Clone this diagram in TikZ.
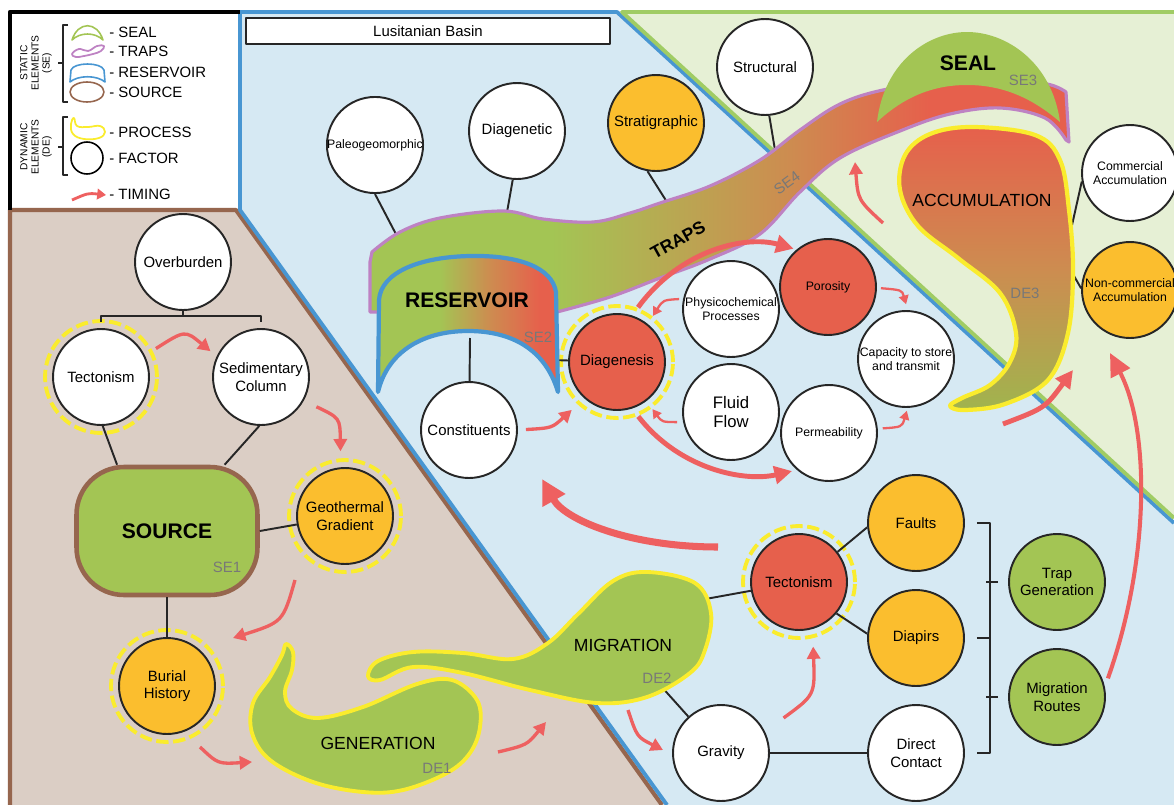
\documentclass[tikz,border=0pt]{standalone}
\usepackage{fontspec}
\setmainfont{Liberation Sans}
\usetikzlibrary{arrows.meta}

\definecolor{grn}{RGB}{163,197,84}
\definecolor{facorange}{RGB}{251,190,46}
\definecolor{facred}{RGB}{230,96,76}
\definecolor{bgblue}{RGB}{214,233,243}
\definecolor{bggreen}{RGB}{230,240,213}
\definecolor{bgbrown}{RGB}{219,206,197}
\definecolor{lnbrown}{RGB}{150,102,78}
\definecolor{lnblue}{RGB}{72,150,210}
\definecolor{lngreen}{RGB}{160,204,100}
\definecolor{lnpink}{RGB}{190,130,195}
\definecolor{ylw}{RGB}{250,236,45}
\definecolor{arrowred}{RGB}{238,96,96}
\definecolor{tagray}{RGB}{120,120,120}
\definecolor{accmid}{RGB}{205,140,80}
\definecolor{accgreen}{RGB}{160,180,78}

\pgfdeclarehorizontalshading{trapshade}{100bp}{color(0bp)=(grn); color(38bp)=(grn); color(55bp)=(accmid); color(65bp)=(facred); color(100bp)=(facred)}
\pgfdeclarehorizontalshading{resshade}{100bp}{color(0bp)=(grn); color(42bp)=(grn); color(56bp)=(accmid); color(70bp)=(facred); color(100bp)=(facred)}

\begin{document}
\begin{tikzpicture}[x=0.02cm, y=-0.02cm, line join=round]
    \tikzstyle{factor} = [circle, draw=black!85, line width=1.1pt, fill=white, minimum size=1.92cm, inner sep=0pt, align=center, font=\fontsize{8.5}{10}\selectfont]
    \tikzstyle{smalltext} = [font=\fontsize{7}{8}\selectfont]
    \tikzstyle{link} = [draw=black!85, line width=1.1pt]
    \tikzstyle{ring} = [draw=ylw, line width=2.2pt, dash pattern=on 7pt off 2.6pt]
    \tikzstyle{process} = [fill=grn, draw=ylw, line width=2.2pt]
    \tikzstyle{timing} = [draw=arrowred, line width=1.9pt, -{Triangle[length=7pt,width=7.5pt]}]
    \tikzstyle{thintiming} = [draw=arrowred, line width=1.3pt, -{Triangle[length=5pt,width=5.5pt]}]
    \tikzstyle{bigtiming} = [draw=arrowred, line width=2.8pt, -{Triangle[length=10pt,width=10pt]}]
    \tikzstyle{hugetiming} = [draw=arrowred, line width=4pt, -{Triangle[length=14pt,width=14pt]}]
    \tikzstyle{bigword} = [font=\fontsize{12}{14}\selectfont\bfseries]
    \tikzstyle{stage} = [font=\fontsize{10}{12}\selectfont]
    \tikzstyle{elemtag} = [text=tagray, font=\fontsize{8.5}{10}\selectfont]
    \tikzstyle{legtext} = [anchor=west, inner sep=0pt, font=\fontsize{8.5}{10}\selectfont]
    \useasboundingbox (0,0) rectangle (1174,805);

    % panels
    \fill[white] (0,0) rectangle (1174,805);
    \fill[bgbrown] (10,210) -- (238,210) -- (664,805) -- (10,805) -- cycle;
    \fill[bgblue] (240,12) -- (617,12) -- (1174,523) -- (1174,805) -- (667,805) -- (240,210) -- cycle;
    \fill[bggreen] (621,12) -- (1174,12) -- (1174,518) -- cycle;
    \draw[lnbrown, line width=2.4pt] (10,805) -- (10,210) -- (236,210) -- (662,805);
    \draw[lnblue, line width=2.2pt] (667,805) -- (240,210) -- (240,12) -- (617,12) -- (1174,523);
    \draw[lngreen, line width=2.2pt] (1174,12) -- (622,12) -- (1174,518);
    \draw[black, line width=2.6pt] (10,210) -- (10,12) -- (240,12);

    % legend
    \node[rotate=90, align=center, font=\fontsize{5.8}{6.3}\selectfont] (sehead) at (36,63) {STATIC\\ELEMENTS\\(SE)};
    \node[rotate=90, align=center, font=\fontsize{5.8}{6.3}\selectfont] (dehead) at (36,147) {DYNAMIC\\ELEMENTS\\(DE)};
    \draw[black!85, line width=0.7pt] (68,25) -- (63,25) -- (63,102) -- (68,102) (63,63) -- (58,63);
    \draw[black!85, line width=0.7pt] (68,117) -- (63,117) -- (63,175) -- (68,175) (63,147) -- (58,147);
    \draw[grn, line width=0.9pt] (72,40) .. controls (78,21) and (97,21) .. (103,40) .. controls (95,32) and (80,32) .. cycle;
    \draw[lnpink, line width=1pt] plot[smooth cycle, tension=0.7] coordinates {(72,54) (79,49) (88,51) (97,46) (104,46) (101,51) (93,54) (84,56) (76,57)};
    \draw[lnblue, line width=0.9pt] (70,82) -- (71,70) .. controls (74,62) and (101,62) .. (104,70) -- (105,82) .. controls (97,75) and (78,75) .. cycle;
    \draw[lnbrown, line width=0.9pt] (87,92) ellipse [x radius=0.34cm, y radius=0.2cm];
    \draw[ylw, line width=1pt] plot[smooth cycle, tension=0.7] coordinates {(74,118) (77,126) (88,127) (100,126) (105,132) (99,138) (84,139) (73,134) (71,124)};
    \draw[black, line width=0.9pt] (87,158) circle[radius=0.32cm];
    \draw[draw=arrowred, line width=1.6pt, -{Triangle[length=5pt,width=6pt]}] (72,200) .. controls (88,193) .. (106,195);
    \node[legtext] (lgseal) at (109,32) {- SEAL};
    \node[legtext] (lgtraps) at (109,51) {- TRAPS};
    \node[legtext] (lgres) at (109,72) {- RESERVOIR};
    \node[legtext] (lgsrc) at (109,92) {- SOURCE};
    \node[legtext] (lgproc) at (109,132) {- PROCESS};
    \node[legtext] (lgfac) at (109,158) {- FACTOR};
    \node[legtext] (lgtime) at (109,194) {- TIMING};

    % source side
    \node[factor] (ovb) at (183,262) {Overburden};
    \node[factor] (tecS) at (101,377) {Tectonism};
    \node[factor] (sed) at (261,377) {Sedimentary\\Column};
    \node[rectangle, rounded corners=0.95cm, draw=lnbrown, line width=2.6pt, fill=grn, minimum width=3.62cm, minimum height=2.56cm, bigword] (source) at (167,531) {SOURCE};
    \node[factor, fill=facorange] (geo) at (345,516) {Geothermal\\Gradient};
    \node[factor, fill=facorange] (bur) at (167,686) {Burial\\History};

    % reservoir side
    \node[draw=black!85, line width=1.1pt, fill=white, minimum width=7.28cm, minimum height=0.52cm, font=\fontsize{8.5}{10}\selectfont] (basin) at (428,31) {Lusitanian Basin};
    \node[factor, smalltext] (paleo) at (375,145) {Paleogeomorphic};
    \node[factor] (diagen) at (517,131) {Diagenetic};
    \node[factor, fill=facorange] (strat) at (656,123) {Stratigraphic};
    \node[factor] (struct) at (765,67) {Structural};
    \node[factor] (const) at (469,430) {Constituents};
    \node[factor, fill=facred] (diag) at (617,362) {Diagenesis};
    \node[factor, smalltext] (phys) at (731,309) {Physicochemical\\Processes};
    \node[factor, fill=facred, smalltext] (por) at (828,287) {Porosity};
    \node[factor, font=\fontsize{9.5}{11}\selectfont] (fluid) at (731,412) {Fluid\\Flow};
    \node[factor, smalltext] (perm) at (829,433) {Permeability};
    \node[factor, smalltext] (cap) at (906,359) {Capacity to store\\and transmit};

    % accumulation side
    \node[factor, smalltext] (comm) at (1130,173) {Commercial\\Accumulation};
    \node[factor, fill=facorange, smalltext] (noncomm) at (1130,290) {Non-commercial\\Accumulation};

    % migration side
    \node[factor, fill=facred] (tecM) at (799,582) {Tectonism};
    \node[factor, fill=facorange] (faults) at (916,523) {Faults};
    \node[factor, fill=facorange] (diapirs) at (916,638) {Diapirs};
    \node[factor] (grav) at (721,753) {Gravity};
    \node[factor] (direct) at (916,753) {Direct\\Contact};
    \node[factor, fill=grn] (trapg) at (1057,582) {Trap\\Generation};
    \node[factor, fill=grn] (migr) at (1057,697) {Migration\\Routes};

    \foreach \n in {tecS, geo, bur, diag, tecM}
        \draw[ring] (\n) circle[radius=1.12cm];

    % links
    \coordinate (brk) at (183,316);
    \coordinate (tp1) at (398,238);
    \coordinate (tp2) at (506,218);
    \coordinate (tp3) at (672,210);
    \coordinate (tp4) at (776,156);
    \coordinate (rsR) at (552,360);
    \coordinate (rsB) at (470,338);
    \coordinate (mgR) at (700,600);
    \coordinate (mgB) at (660,685);
    \coordinate (acR1) at (1066,252);
    \coordinate (acR2) at (1066,262);
    \draw[link] (ovb) -- (brk);
    \draw[link] (tecS.north |- brk) ++(0,6) -- ++(0,-6) -- (sed.north |- brk) -- ++(0,6);
    \draw[link] (tecS.-88) -- (source.127);
    \draw[link] (sed.-92) -- (source.49);
    \path[link] (source.east) edge (geo) (source) edge (bur);
    \draw[link] (paleo.south) -- (tp1);
    \draw[link] (diagen.-95) -- (tp2);
    \draw[link] (strat.-100) -- (tp3);
    \draw[link] (struct.-85) -- (tp4);
    \draw[link] (diag) -- (rsR);
    \draw[link] (const) -- (rsB);
    \draw[link] (mgR) -- (tecM);
    \draw[link] (mgB) -- (grav);
    \draw[link] (tecM.38) -- (faults.185);
    \draw[link] (tecM.-40) -- (diapirs.175);
    \draw[link] (grav) -- (direct);
    \draw[link] (acR1) -- (comm.190);
    \draw[link] (acR2) -- (noncomm.178);
    \draw[link] ([xshift=0.24cm]faults.east) -- ([xshift=0.5cm]faults.east) -- ([xshift=0.5cm]direct.east) -- ([xshift=0.24cm]direct.east);
    \draw[link] ([xshift=0.24cm]diapirs.east) -- ([xshift=0.5cm]diapirs.east);
    \draw[link] ([xshift=-0.44cm]trapg.west) -- ([xshift=-0.2cm]trapg.west);
    \draw[link] ([xshift=-0.44cm]migr.west) -- ([xshift=-0.2cm]migr.west);

    % elements
    \path[shade, top color=facred, bottom color=accgreen, middle color=accmid, draw=ylw, line width=2.4pt]
        plot[smooth cycle, tension=0.6] coordinates {(905,155) (930,134) (973,127) (1035,135) (1060,160) (1069,210) (1073,270) (1068,333) (1048,380) (1005,404) (965,410) (950,406) (962,398) (990,385) (1010,362) (1016,333) (1000,293) (958,258) (918,226) (900,190)};
    \path[shade, shading=trapshade, draw=lnpink, line width=1.8pt]
        (370,312) -- (370,262)
        -- plot[smooth, tension=0.6] coordinates {(372,252) (400,232) (440,218) (503,211) (543,219) (593,222) (630,213) (660,203) (710,186) (760,160) (800,130) (840,104) (883,90) (940,82) (1000,80) (1047,84) (1066,92)}
        -- (1069,142)
        -- plot[smooth, tension=0.6] coordinates {(1066,140) (1045,118) (1000,108) (950,114) (900,131) (840,158) (800,192) (760,234) (710,259) (660,278) (610,297) (557,312)}
        -- cycle;
    \fill[grn] (877,122) .. controls (884,62) and (928,32) .. (967,32) .. controls (1006,32) and (1052,62) .. (1060,122) .. controls (1030,96) and (1000,85) .. (967,85) .. controls (934,85) and (905,96) .. cycle;
    \path[shade, shading=resshade, draw=lnblue, line width=2.4pt] (378,392) -- (379,300) .. controls (381,272) and (420,257) .. (470,256) .. controls (520,255) and (552,268) .. (556,292) -- (558,392) .. controls (545,348) and (510,331) .. (468,331) .. controls (425,331) and (388,350) .. cycle;
    \path[process] plot[smooth cycle, tension=0.6] coordinates {(286,644) (293,652) (292,670) (285,692) (292,709) (318,718) (363,707) (417,684) (452,680) (477,700) (480,727) (470,753) (447,773) (403,790) (363,792) (313,782) (270,760) (252,733) (253,703) (270,677) (282,655)};
    \path[process] plot[smooth cycle, tension=0.6] coordinates {(368,676) (378,661) (413,652) (463,653) (513,659) (548,643) (578,614) (613,581) (647,572) (695,583) (711,613) (705,650) (690,673) (647,697) (597,703) (530,690) (463,673) (413,667) (380,680)};

    % element names
    \node[elemtag] (se1) at (227,567) {SE1};
    \node[bigword] (resname) at (467,300) {RESERVOIR};
    \node[elemtag] (se2) at (538,337) {SE2};
    \node[bigword] (sealname) at (968,63) {SEAL};
    \node[elemtag] (se3) at (1023,80) {SE3};
    \node[rotate=29, inner sep=0pt, font=\fontsize{10}{12}\selectfont\bfseries] (trapname) at (678,240) {TRAPS};
    \node[elemtag, rotate=36, inner sep=0pt] (se4) at (787,183) {SE4};
    \node[stage] (accname) at (982,200) {ACCUMULATION};
    \node[elemtag] (de3) at (1025,293) {DE3};
    \node[stage] (genname) at (378,743) {GENERATION};
    \node[elemtag] (de1) at (437,768) {DE1};
    \node[stage] (migname) at (623,645) {MIGRATION};
    \node[elemtag] (de2) at (657,678) {DE2};

    % timing
    \coordinate (gtA) at (295,580);
    \coordinate (gtB) at (233,638);
    \coordinate (bgA) at (200,747);
    \coordinate (bgB) at (252,762);
    \coordinate (gmA) at (498,752);
    \coordinate (gmB) at (546,722);
    \coordinate (mgA) at (628,710);
    \coordinate (mgC) at (663,750);
    \coordinate (mrA) at (718,547);
    \coordinate (mrB) at (542,479);
    \coordinate (acA) at (883,223);
    \coordinate (acB) at (855,162);
    \coordinate (acC) at (1003,424);
    \coordinate (acD) at (1073,370);
    \coordinate (acE) at (1110,353);
    \draw[timing, shorten <=0.26cm, shorten >=0.16cm] (tecS.26) .. controls (185,330) .. (sed.155);
    \draw[timing, shorten <=0.28cm, shorten >=0.32cm] (sed.-29) .. controls (340,418) .. (geo.95);
    \draw[timing] (gtA) .. controls (283,622) .. (gtB);
    \draw[timing] (bgA) .. controls (218,764) .. (bgB);
    \draw[timing] (gmA) .. controls (527,745) .. (gmB);
    \draw[timing] (mgA) .. controls (637,737) .. (mgC);
    \draw[timing, shorten <=0.46cm, shorten >=0.35cm] (grav.26) .. controls (815,695) .. (tecM.-74);
    \draw[timing, shorten <=0.16cm, shorten >=0.34cm] (const.0) .. controls (552,428) .. (diag.228);
    \draw[bigtiming, shorten <=0.2cm, shorten >=0.06cm] (diag.72) .. controls (680,250) and (745,235) .. (por.130);
    \draw[bigtiming, shorten <=0.2cm, shorten >=0.1cm] (diag.-72) .. controls (680,470) and (745,482) .. (perm.229);
    \draw[thintiming, shorten <=0.08cm, shorten >=0.19cm] (phys.168) .. controls (663,300) .. (diag.51);
    \draw[thintiming, shorten <=0.12cm, shorten >=0.2cm] (fluid.192) .. controls (662,422) .. (diag.-53);
    \draw[thintiming, shorten <=0.08cm, shorten >=0.12cm] (por.-1) .. controls (902,290) .. (cap.88);
    \draw[thintiming, shorten <=0.1cm, shorten >=0.06cm] (perm.5) .. controls (902,427) .. (cap.-88);
    \draw[hugetiming] (mrA) .. controls (630,547) and (565,520) .. (mrB);
    \draw[timing] (acA) .. controls (858,200) .. (acB);
    \draw[bigtiming] (acC) .. controls (1045,408) .. (acD);
    \draw[bigtiming, line width=2.3pt, -{Triangle[length=13pt,width=12pt]}, shorten <=0.18cm] (migr.12) .. controls (1150,560) and (1150,430) .. (acE);
\end{tikzpicture}
\end{document}
